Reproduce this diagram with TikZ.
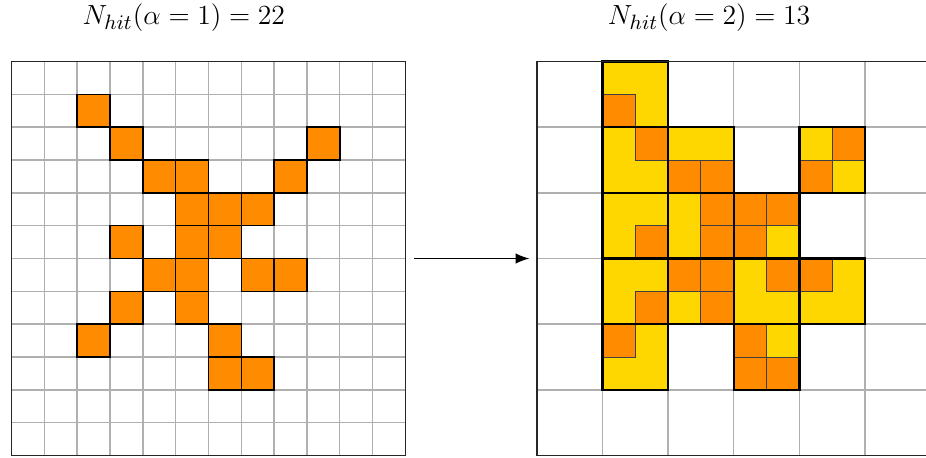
\documentclass[tikz,border=0pt]{standalone}
\usetikzlibrary{arrows.meta}
\definecolor{hitorange}{HTML}{FF8C00}
\definecolor{hityellow}{HTML}{FFD700}
\definecolor{gridgray}{HTML}{B0B0B0}
\begin{document}
\begin{tikzpicture}[x=0.5cm,y=0.5cm,
  gridline/.style={draw=gridgray, line width=0.6pt},
  frame/.style={draw=black!85, line width=0.8pt},
  hitcell/.style={fill=hitorange, draw=black, line width=0.7pt},
  subcell/.style={fill=hitorange, draw=black!75, line width=0.4pt},
  bigframe/.style={draw=black, line width=1.1pt},
  title/.style={font=\fontsize{12.8}{15}\selectfont, inner sep=0pt},
  area/.style={minimum width=6cm, minimum height=6cm, inner sep=0pt, draw=none},
  conn/.style={-{Latex[length=6pt,width=4.5pt]}, line width=0.5pt}]
\useasboundingbox (-0.350,-0.076) rectangle (27.855,13.874);
% left grid
\node[area] (L) at (6,6) {};
\draw[gridline, step=1] (0,0) grid (12,12);
\foreach \r/\c in {1/2, 2/3, 2/9, 3/4, 3/5, 3/8, 4/5, 4/6, 4/7, 5/3, 5/5, 5/6,
                   6/4, 6/5, 6/7, 6/8, 7/3, 7/5, 8/2, 8/6, 9/6, 9/7}
  \draw[hitcell] (\c,11-\r) rectangle ++(1,1);
\draw[frame] (0,0) rectangle (12,12);
% right grid
\node[area] (R) at (22,6) {};
\begin{scope}[shift={(16,0)}]
  \draw[gridline, step=2] (0,0) grid (12,12);
  \foreach \R/\C in {0/1, 1/1, 1/2, 1/4, 2/1, 2/2, 2/3, 3/1, 3/2, 3/3, 3/4, 4/1, 4/3}
    \fill[hityellow] (2*\C,10-2*\R) rectangle ++(2,2);
  \foreach \r/\c in {1/2, 2/3, 2/9, 3/4, 3/5, 3/8, 4/5, 4/6, 4/7, 5/3, 5/5, 5/6,
                     6/4, 6/5, 6/7, 6/8, 7/3, 7/5, 8/2, 8/6, 9/6, 9/7}
    \draw[subcell] (\c,11-\r) rectangle ++(1,1);
  \foreach \R/\C in {0/1, 1/1, 1/2, 1/4, 2/1, 2/2, 2/3, 3/1, 3/2, 3/3, 3/4, 4/1, 4/3}
    \draw[bigframe] (2*\C,10-2*\R) rectangle ++(2,2);
  \draw[frame] (0,0) rectangle (12,12);
\end{scope}
% titles
\node[title] (t1) at (5.25,13.33) {$N_{hit}(\alpha=1)=22$};
\node[title] (t2) at (21.25,13.33) {$N_{hit}(\alpha=2)=13$};
% arrow
\draw[conn] ([xshift=0.13cm]L.east) -- ([xshift=-0.105cm]R.west);
\end{tikzpicture}
\end{document}
